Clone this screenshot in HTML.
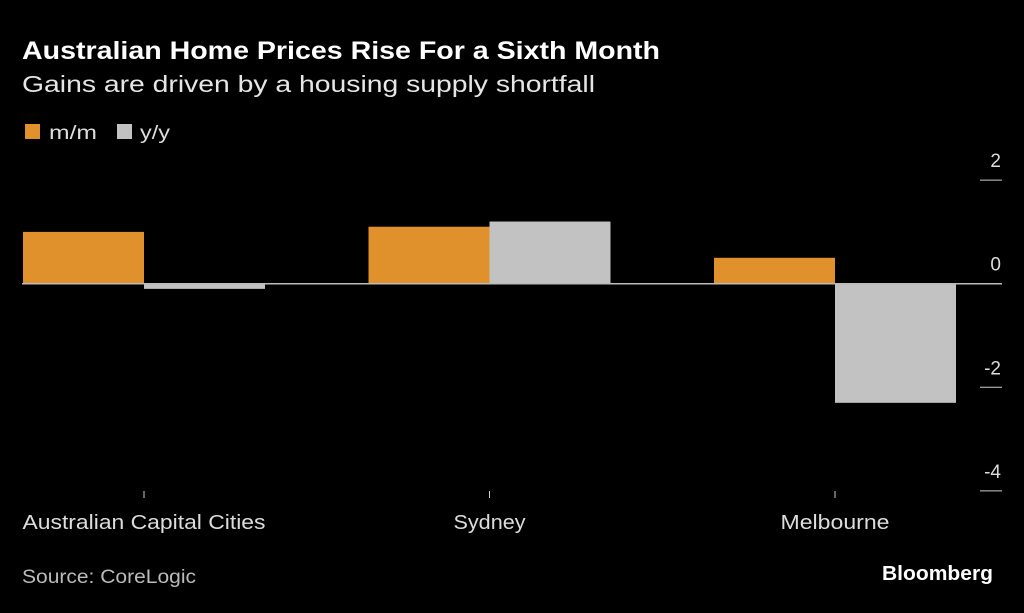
<!DOCTYPE html>
<html><head><meta charset="utf-8">
<style>
html,body{margin:0;padding:0;background:#000;}
body{width:1024px;height:608px;overflow:hidden;font-family:"Liberation Sans",sans-serif;}
</style></head>
<body>
<svg width="1024" height="608" viewBox="0 0 1024 608" xmlns="http://www.w3.org/2000/svg">
<rect width="1024" height="608" fill="#000"/>
<text x="22" y="59" fill="#fff" font-size="25" font-weight="bold" textLength="638" lengthAdjust="spacingAndGlyphs">Australian Home Prices Rise For a Sixth Month</text>
<text x="22" y="92" fill="#e6e6e6" font-size="23" textLength="573" lengthAdjust="spacingAndGlyphs">Gains are driven by a housing supply shortfall</text>
<rect x="25" y="124" width="15" height="15" fill="#e0912b"/>
<text x="49" y="139" fill="#ddd" font-size="19" textLength="48" lengthAdjust="spacingAndGlyphs">m/m</text>
<rect x="117" y="124" width="15" height="15" fill="#c2c2c2"/>
<text x="140" y="139" fill="#ddd" font-size="19" textLength="30" lengthAdjust="spacingAndGlyphs">y/y</text>
<g id="plot"></g>
<text x="22" y="583" fill="#bbb" font-size="19" textLength="174" lengthAdjust="spacingAndGlyphs">Source: CoreLogic</text>
<text x="882" y="580" fill="#fff" font-size="20" font-weight="bold" textLength="111" lengthAdjust="spacingAndGlyphs">Bloomberg</text>
</svg>
<script>
const categories = ["Australian Capital Cities", "Sydney", "Melbourne"];
const mmValues = [1.0, 1.1, 0.5];
const yyValues = [-0.1, 1.2, -2.3];
const yTicks = [2, 0, -2, -4];
const yTickLabels = ["2", "0", "-2", "-4"];

const NS = "http://www.w3.org/2000/svg";
const g = document.getElementById("plot");
function y(v){ return 283.7 - v * 51.8; }
const bandStart = 0, bandW = 345.5, barW = 121;
const labelW = {"Australian Capital Cities": 243, "Sydney": 72, "Melbourne": 109};
function catCenter(i){ return bandStart + 144 + i * bandW; }
function mk(tag, attrs){ const e = document.createElementNS(NS, tag); for (const k in attrs) e.setAttribute(k, attrs[k]); g.appendChild(e); return e; }

yTicks.forEach((t, i) => {
  const ln = mk("line", {x1: 980, x2: 1002, y1: y(t), y2: y(t), stroke: "#ccc", "stroke-width": 1});
  
  
  const tx = mk("text", {x: 1001, y: y(t) - 13, fill: "#ddd", "font-size": 19, "text-anchor": "end"});
  tx.textContent = yTickLabels[i];
  
  
});

categories.forEach((c, i) => {
  const cx = catCenter(i);
  const v1 = mmValues[i], v2 = yyValues[i];
  const b1 = mk("rect", {x: cx - barW, y: Math.min(y(v1), y(0)), width: barW, height: Math.abs(y(v1) - y(0)), fill: "#e0912b"});
  
  
  const b2 = mk("rect", {x: cx, y: Math.min(y(v2), y(0)), width: barW, height: Math.abs(y(v2) - y(0)), fill: "#c2c2c2"});
  
  
  const tk = mk("line", {x1: cx, x2: cx, y1: 491, y2: 498, stroke: "#ccc", "stroke-width": 1});
  
  
  const lb = mk("text", {x: cx, y: 529, fill: "#ddd", "font-size": 20, "text-anchor": "middle"});
  lb.textContent = c;
  if (labelW[c]) {
    lb.setAttribute('textLength', labelW[c]);
    lb.setAttribute('lengthAdjust', 'spacingAndGlyphs');
  }
  
  
});

const zl = mk("line", {x1: 22, x2: 1002, y1: y(0), y2: y(0), stroke: "#bbb", "stroke-width": 1.5});


</script>
</body></html>
